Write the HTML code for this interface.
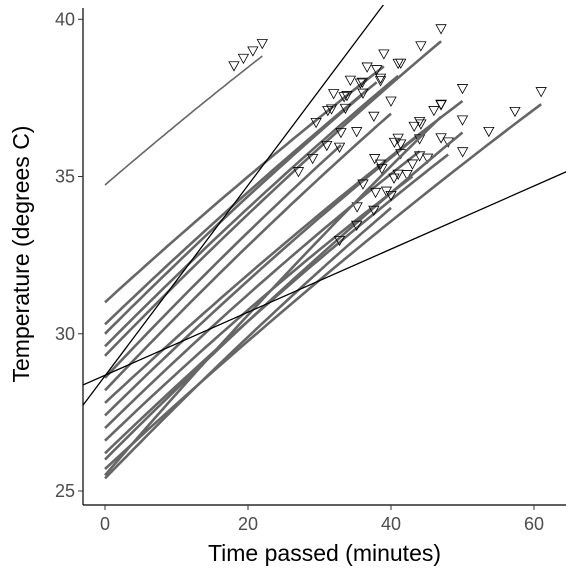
<!DOCTYPE html>
<html><head><meta charset="utf-8"><style>body{margin:0;background:#fff}svg{display:block;font-family:"Liberation Sans",sans-serif}</style></head>
<body>
<svg id="chart" width="576" height="576" viewBox="0 0 576 576">
<defs><clipPath id="clip"><rect x="83" y="5" width="483" height="500"/></clipPath></defs>
<g id="plot" clip-path="url(#clip)"></g>
<g id="axes"></g>
</svg>
<script>
const startTemps=[34.73,31.0,30.3,30.0,29.6,29.3,28.6,28.2,27.8,27.4,27.0,26.6,26.2,26.0,25.7,25.4,25.5];
const endTimes=[22,39,38,36,41,47,33,40,50,46,44,43,48,50,61,40,47];
const endTemps=[38.83,38.5,38.0,37.6,38.2,39.3,36.0,37.0,37.4,36.7,35.8,35.0,35.7,36.4,37.3,34.0,36.9];
const curveBoost=[0.05,0.15,0.15,0.15,0.2,0.25,0.15,0.2,0.25,0.25,0.25,0.25,0.25,0.25,0.3,0.2,0.25];
const triFractions=[0.82,0.88,0.94,1.0];
const lineIntercepts=[28.66,28.68];
const lineSlopes=[0.303,0.1003];
const xTicks=[0,20,40,60];
const yTicks=[25,30,35,40];

const NS="http://www.w3.org/2000/svg";
const X=t=>105+t*7.15;
const Y=v=>491-(v-25)*31.45;
function mk(tag,attrs,parent){const e=document.createElementNS(NS,tag);for(const k in attrs)e.setAttribute(k,attrs[k]);parent.appendChild(e);return e;}
const plot=document.getElementById('plot'),axes=document.getElementById('axes');
function temp(i,t){const T=endTimes[i];const u=t/T;return startTemps[i]+(endTemps[i]-startTemps[i])*u+curveBoost[i]*4*u*(1-u);}
startTemps.forEach((s,i)=>{
  let pts=[];for(let k=0;k<=40;k++){const t=endTimes[i]*k/40;pts.push(X(t).toFixed(1)+','+Y(temp(i,t)).toFixed(1));}
  const pl=mk('polyline',{points:pts.join(' '),fill:'none',stroke:'#666','stroke-width':i===0?1.6:2.6},plot);
  
  
  triFractions.forEach(f=>{
    const t=endTimes[i]*f;const cx=X(t),cy=Y(temp(i,t)+0.4);
    const tr=mk('polygon',{points:`${cx-5},${cy-4} ${cx+5},${cy-4} ${cx},${cy+5}`,fill:'none',stroke:'#000','stroke-width':0.8},plot);
    
    
  });
});
lineIntercepts.forEach((b,i)=>{
  const t0=-4,t1=70;
  const l=mk('line',{x1:X(t0),y1:Y(b+lineSlopes[i]*t0),x2:X(t1),y2:Y(b+lineSlopes[i]*t1),stroke:'#000','stroke-width':1.3},plot);
  
  
});
let a=mk('line',{x1:83,y1:505,x2:566,y2:505,stroke:'#000','stroke-width':1.2},axes);


a=mk('line',{x1:83,y1:8,x2:83,y2:505,stroke:'#000','stroke-width':1.2},axes);


xTicks.forEach(v=>{
  const tk=mk('line',{x1:X(v),y1:505,x2:X(v),y2:510,stroke:'#333'},axes);
  
  
  const tx=mk('text',{x:X(v),y:530,'text-anchor':'middle','font-size':18,fill:'#4d4d4d'},axes);tx.textContent=v;
  
  
});
yTicks.forEach(v=>{
  const tk=mk('line',{x1:78,y1:Y(v),x2:83,y2:Y(v),stroke:'#333'},axes);
  
  
  const tx=mk('text',{x:75,y:Y(v)+6,'text-anchor':'end','font-size':18,fill:'#4d4d4d'},axes);tx.textContent=v;
  
  
});
</script>
<div style="position:absolute;left:0;top:0;width:576px;height:576px;pointer-events:none;font-family:'Liberation Sans',sans-serif">
<div style="position:absolute;left:83px;width:483px;top:540px;text-align:center;font-size:23px">Time passed (minutes)</div>
<div style="position:absolute;left:-230px;top:242px;width:500px;text-align:center;font-size:23px;transform:rotate(-90deg);transform-origin:250px 12px;">Temperature (degrees C)</div>
</div>
</body></html>
